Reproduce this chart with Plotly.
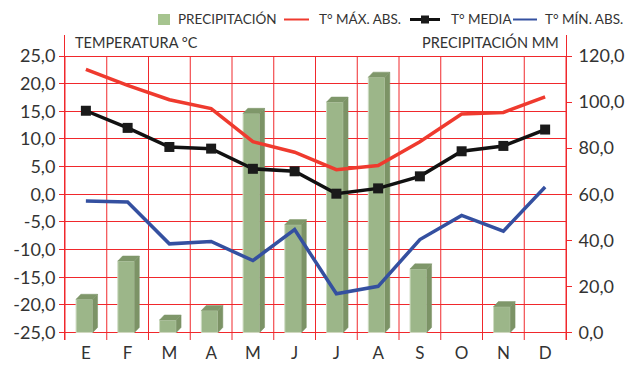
import plotly.graph_objects as go

# Monthly climate data
months = ["E", "F", "M", "A", "M", "J", "J", "A", "S", "O", "N", "D"]
precip_mm = [14.4, 31.0, 5.4, 9.5, 95.1, 46.8, 100.0, 110.8, 27.6, 0.0, 11.2, 0.0]
t_max_abs = [22.6, 19.7, 17.1, 15.5, 9.5, 7.6, 4.45, 5.2, 9.5, 14.5, 14.8, 17.6]
t_media = [15.1, 12.0, 8.55, 8.25, 4.6, 4.15, 0.1, 1.06, 3.24, 7.77, 8.74, 11.7]
t_min_abs = [-1.24, -1.4, -8.97, -8.55, -12.0, -6.4, -18.0, -16.65, -8.2, -3.84, -6.67, 1.3]

temp_ticks = [-25, -20, -15, -10, -5, 0, 5, 10, 15, 20, 25]
precip_ticks = [0, 20, 40, 60, 80, 100, 120]

series_names = ["PRECIPITACIÓN", "T° MÁX. ABS.", "T° MEDIA", "T° MÍN. ABS."]

FONT = "Lato"
GRID = "#f0282c"
TXT = "#333333"
BAR_FRONT = "#9cb689"
BAR_SIDE = "#7c9366"
BAR_TOP = "#7f976a"
RED = "#ef3a2e"
BLACK = "#111111"
BLUE = "#3450a0"

W, H = 638, 365
ML, MR, MT, MB = 65, 72, 35, 25

x = list(range(len(months)))

# temperature axis range and the matching precipitation range (0 mm at -25 °C, 120 mm at 25 °C)
t_lo, t_hi = -26.36, 28.8
p_lo, p_hi = (t_lo + 25) * 2.4, (t_hi + 25) * 2.4

# pseudo-3D column geometry (in x units / mm)
fx0, fx1 = -0.235, 0.165   # front face
dx, dy = 0.115, 2.2        # depth offset

fig = go.Figure()

fig.add_trace(go.Bar(
    x=x, y=[v if v > 0 else None for v in precip_mm], width=0.4, offset=fx0,
    marker=dict(color=BAR_FRONT, line=dict(color="#cfdcc3", width=1)),
    name=series_names[0], yaxis="y",
))

side_x, side_y, top_x, top_y = [], [], [], []
for xi, v in zip(x, precip_mm):
    if v <= 0:
        continue
    a, b = xi + fx0, xi + fx1
    side_x += [b, b, b + dx, b + dx, b, None]
    side_y += [0, v, v + dy, dy, 0, None]
    top_x += [a, b, b + dx, a + dx, a, None]
    top_y += [v, v, v + dy, v + dy, v, None]

fig.add_trace(go.Scatter(x=side_x, y=side_y, fill="toself", mode="lines",
                         fillcolor=BAR_SIDE, line=dict(width=0.5, color=BAR_SIDE),
                         hoverinfo="skip", yaxis="y"))
fig.add_trace(go.Scatter(x=top_x, y=top_y, fill="toself", mode="lines",
                         fillcolor=BAR_TOP, line=dict(width=0.5, color=BAR_TOP),
                         hoverinfo="skip", yaxis="y"))

fig.add_trace(go.Scatter(x=x, y=t_max_abs, mode="lines", name=series_names[1],
                         line=dict(color=RED, width=3.5), yaxis="y2"))
fig.add_trace(go.Scatter(x=x, y=t_media, mode="lines+markers", name=series_names[2],
                         line=dict(color=BLACK, width=3.5),
                         marker=dict(symbol="square", size=10, color="#1a1a1a"),
                         yaxis="y2"))
fig.add_trace(go.Scatter(x=x, y=t_min_abs, mode="lines", name=series_names[3],
                         line=dict(color=BLUE, width=3.5), yaxis="y2"))


def px(xp):
    return (xp - ML) / (W - ML - MR)


def py(yp):
    return (H - MB - yp) / (H - MT - MB)


# vertical category separators, from the axis floor up to the 25 °C line
shapes = []
for k in range(len(months) + 1):
    shapes.append(dict(type="line", xref="x", yref="y2", x0=k - 0.5, x1=k - 0.5,
                       y0=t_lo, y1=temp_ticks[-1], layer="below",
                       line=dict(color=GRID, width=1)))

# legend row across the top
ly = 19.5
shapes.append(dict(type="rect", xref="paper", yref="paper",
                   x0=px(158), x1=px(170), y0=py(25), y1=py(14),
                   fillcolor="#a6c48f", line=dict(width=0)))
shapes.append(dict(type="line", xref="paper", yref="paper",
                   x0=px(284), x1=px(309), y0=py(ly), y1=py(ly),
                   line=dict(color=RED, width=2)))
shapes.append(dict(type="line", xref="paper", yref="paper",
                   x0=px(410), x1=px(440), y0=py(ly), y1=py(ly),
                   line=dict(color=BLACK, width=3)))
shapes.append(dict(type="rect", xref="paper", yref="paper",
                   x0=px(421), x1=px(429), y0=py(ly + 4), y1=py(ly - 4),
                   fillcolor="#1a1a1a", line=dict(width=0)))
shapes.append(dict(type="line", xref="paper", yref="paper",
                   x0=px(513), x1=px(537), y0=py(ly), y1=py(ly),
                   line=dict(color=BLUE, width=2)))

legend_text_x = [176, 317, 449, 543]
annotations = [
    dict(text=name, xref="paper", yref="paper", x=px(lx), y=py(ly),
         xanchor="left", yanchor="middle", showarrow=False,
         font=dict(size=13.5, color=TXT))
    for name, lx in zip(series_names, legend_text_x)
]
annotations += [
    dict(text="TEMPERATURA °C", xref="paper", yref="paper", x=px(73), y=py(42),
         xanchor="left", yanchor="middle", showarrow=False,
         font=dict(size=14.5, color=TXT)),
    dict(text="PRECIPITACIÓN MM", xref="paper", yref="paper", x=px(561), y=py(42),
         xanchor="right", yanchor="middle", showarrow=False,
         font=dict(size=14.5, color=TXT)),
]

fig.update_layout(
    width=W, height=H,
    margin=dict(l=ML, r=MR, t=MT, b=MB),
    paper_bgcolor="white", plot_bgcolor="white",
    font=dict(family=FONT, color=TXT),
    shapes=shapes,
    annotations=annotations,
    showlegend=False,
    xaxis=dict(range=[-0.5, len(months) - 0.5], tickvals=x, ticktext=months,
               showgrid=False, zeroline=False, showline=False, ticks="",
               ticklabelstandoff=1, automargin=False,
               tickfont=dict(size=17, color=TXT), fixedrange=True),
    yaxis=dict(range=[p_lo, p_hi], side="right", tickvals=precip_ticks,
               ticktext=[f"{v:.1f}".replace(".", ",") for v in precip_ticks],
               showgrid=False, zeroline=False, showline=True, linecolor=GRID,
               linewidth=1, ticks="outside", ticklen=5, tickcolor=GRID,
               ticklabelstandoff=3, automargin=False,
               tickfont=dict(size=18, color=TXT)),
    yaxis2=dict(range=[t_lo, t_hi], side="left", overlaying="y", tickvals=temp_ticks,
                ticktext=[f"{v:.1f}".replace(".", ",") for v in temp_ticks],
                showgrid=True, gridcolor=GRID, gridwidth=1, zeroline=False,
                showline=True, linecolor=GRID, linewidth=1, ticks="outside",
                ticklen=5, tickcolor=GRID, automargin=False,
                tickfont=dict(size=18, color=TXT)),
)

fig.write_html("out.html")
